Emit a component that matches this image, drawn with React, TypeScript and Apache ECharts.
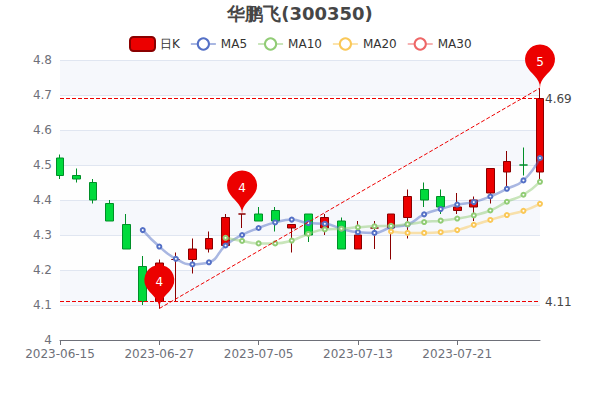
import React, { useEffect, useRef } from "react";
import * as echarts from "echarts";

const dates = ["2023-06-15","2023-06-16","2023-06-19","2023-06-20","2023-06-21","2023-06-26","2023-06-27","2023-06-28","2023-06-29","2023-06-30","2023-07-03","2023-07-04","2023-07-05","2023-07-06","2023-07-07","2023-07-10","2023-07-11","2023-07-12","2023-07-13","2023-07-14","2023-07-17","2023-07-18","2023-07-19","2023-07-20","2023-07-21","2023-07-24","2023-07-25","2023-07-26","2023-07-27","2023-07-28"];
const opens =  [4.52,4.47,4.45,4.39,4.33,4.21,4.11,4.23,4.23,4.26,4.27,4.36,4.36,4.37,4.32,4.36,4.32,4.34,4.26,4.32,4.32,4.35,4.43,4.41,4.37,4.38,4.42,4.48,4.50,4.48];
const closes = [4.47,4.46,4.40,4.34,4.26,4.11,4.22,4.23,4.26,4.29,4.35,4.36,4.34,4.34,4.33,4.30,4.35,4.26,4.30,4.32,4.36,4.41,4.40,4.38,4.38,4.40,4.49,4.51,4.50,4.69];
const lows =   [4.46,4.45,4.39,4.34,4.26,4.10,4.09,4.11,4.19,4.25,4.27,4.32,4.34,4.31,4.25,4.28,4.30,4.26,4.26,4.26,4.23,4.29,4.38,4.36,4.36,4.34,4.39,4.44,4.47,4.46];
const highs =  [4.53,4.49,4.46,4.40,4.36,4.24,4.23,4.25,4.29,4.31,4.36,4.36,4.38,4.38,4.33,4.36,4.36,4.35,4.34,4.34,4.36,4.43,4.45,4.43,4.42,4.41,4.49,4.54,4.55,4.72];
const ma5 =  ["-","-","-","-","-",4.314,4.267,4.232,4.216,4.222,4.27,4.30,4.32,4.336,4.344,4.334,4.332,4.318,4.308,4.306,4.322,4.33,4.359,4.374,4.387,4.394,4.41,4.432,4.456,4.52];
const ma10 = ["-","-","-","-","-","-","-","-","-","-",4.292,4.283,4.276,4.276,4.284,4.303,4.316,4.318,4.322,4.325,4.326,4.331,4.337,4.341,4.347,4.356,4.37,4.395,4.415,4.452];
const ma20 = ["-","-","-","-","-","-","-","-","-","-","-","-","-","-","-","-","-","-","-","-",4.31,4.306,4.306,4.308,4.314,4.329,4.343,4.357,4.369,4.389];
const ma30: string[] = [];
const hLines = [4.69, 4.11];
const pins = [
  { idx: 6, y: 4.09, label: 4 },
  { idx: 11, y: 4.36, label: 4 },
  { idx: 29, y: 4.72, label: 5 },
];
const yTicks = { min: 4, max: 4.8, interval: 0.1 };
const FONT = "DejaVu Sans";

function maSeries(name: string, data: any[], color: string) {
  return {
    name,
    type: "line",
    data,
    smooth: true,
    showSymbol: true,
    symbol: "emptyCircle",
    symbolSize: 4,
    itemStyle: { color, borderWidth: 2 },
    lineStyle: { width: 2.5, opacity: 0.5, color },
  };
}

export default function App() {
  const ref = useRef<HTMLDivElement>(null);
  useEffect(() => {
    const chart = echarts.init(ref.current!, undefined, { renderer: "svg" });
    chart.setOption({
      animation: false,
      textStyle: { fontFamily: FONT },
      title: {
        text: "华鹏飞(300350)",
        left: "center",
        top: -1,
        textStyle: { fontFamily: FONT, fontSize: 18, fontWeight: "bold", color: "#464646" },
      },
      legend: {
        top: 31,
        left: 124,
        itemGap: 10,
        textStyle: { fontFamily: FONT, fontSize: 12, color: "#333" },
        data: [
          { name: "日K", icon: "roundRect", itemStyle: { borderWidth: 2 } },
          "MA5", "MA10", "MA20", "MA30",
        ],
      },
      grid: { left: 60, right: 60, top: 60, bottom: 60 },
      xAxis: {
        type: "category",
        data: dates,
        boundaryGap: false,
        axisLine: { lineStyle: { color: "#6E7079" } },
        axisTick: { show: true, interval: 5, alignWithLabel: true },
        axisLabel: { interval: 5, color: "#6E7079", fontSize: 12, fontFamily: FONT },
        splitLine: { show: false },
      },
      yAxis: {
        type: "value",
        min: yTicks.min,
        max: yTicks.max,
        interval: yTicks.interval,
        axisLine: { show: false },
        axisTick: { show: false },
        axisLabel: { color: "#6E7079", fontSize: 12, fontFamily: FONT },
        splitLine: { show: true, lineStyle: { color: "#E0E6F1" } },
        splitArea: { show: true, areaStyle: { color: ["rgba(250,250,250,0.2)", "rgba(210,219,238,0.2)"] } },
      },
      series: [
        {
          name: "日K",
          type: "candlestick",
          clip: false,
          data: dates.map((_, i) => [opens[i], closes[i], lows[i], highs[i]]),
          itemStyle: {
            color: "#ec0000",
            color0: "#00da3c",
            borderColor: "#8A0000",
            borderColor0: "#008F28",
          },
          markPoint: {
            symbol: "pin",
            symbolSize: 50,
            itemStyle: { color: "#ec0000" },
            label: { color: "#fff", fontSize: 12, fontFamily: FONT },
            data: pins.map((p) => ({ coord: [p.idx, p.y], value: p.label })),
          },
          markLine: {
            symbol: "none",
            silent: true,
            lineStyle: { color: "#ee0000", type: "dashed", width: 1, opacity: 1 },
            label: { show: true, position: "end", color: "#464646", fontSize: 12, fontFamily: FONT, formatter: "{c}" },
            data: [
              { yAxis: hLines[0] },
              { yAxis: hLines[1] },
              [
                { coord: [pins[0].idx, pins[0].y] },
                { coord: [pins[2].idx, pins[2].y], label: { show: false } },
              ],
            ],
          },
        },
        maSeries("MA5", ma5, "#5470C6"),
        maSeries("MA10", ma10, "#91CC75"),
        maSeries("MA20", ma20, "#FAC858"),
        maSeries("MA30", ma30, "#EE6666"),
      ],
    });
    return () => chart.dispose();
  }, []);
  return <div ref={ref} style={{ position: "absolute", left: 0, top: 0, width: 600, height: 400 }} />;
}
